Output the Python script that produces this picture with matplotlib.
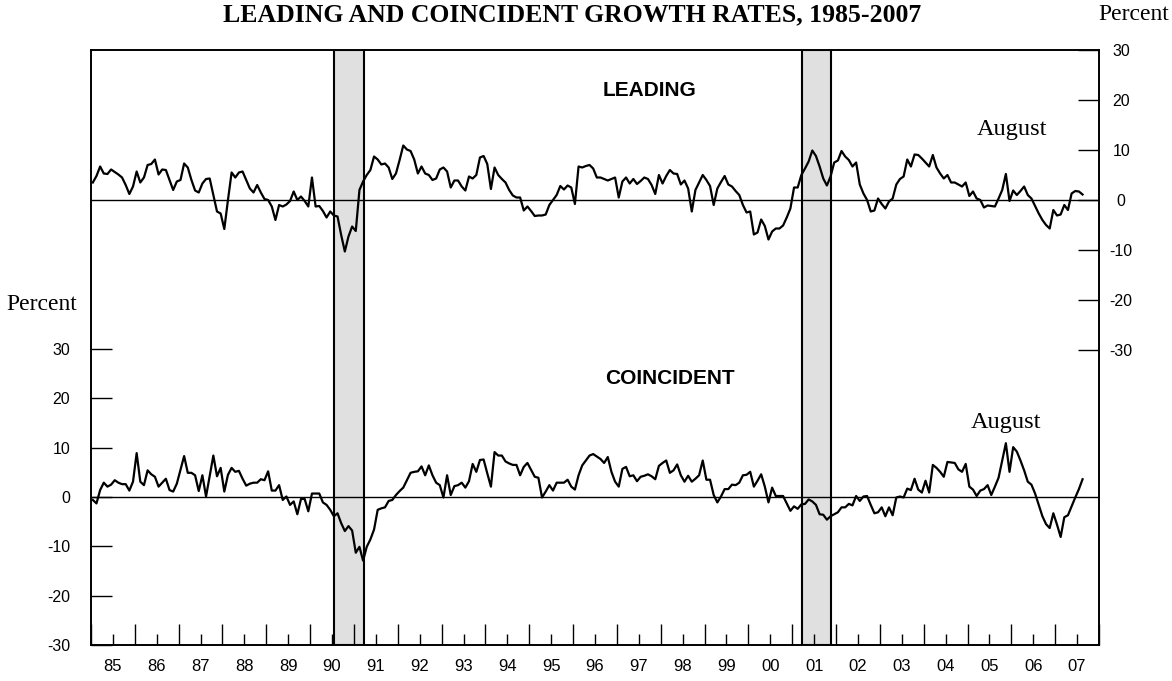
import matplotlib
matplotlib.use('Agg')
import matplotlib.pyplot as plt
import numpy as np

# monthly growth rates, Jan 1985 .. Aug 2007
leading = [
	3.5, 4.8, 6.7, 5.3, 5.2, 6.1, 5.6, 5.1, 4.5, 3.0, 1.2, 2.7,
	5.7, 3.5, 4.5, 7.0, 7.2, 8.1, 5.1, 6.1, 6.0, 4.0, 2.0, 3.7,
	4.0, 7.3, 6.5, 4.0, 1.9, 1.5, 3.3, 4.2, 4.3, 1.0, -2.3, -2.7,
	-5.8, 0.0, 5.5, 4.5, 5.5, 5.7, 4.0, 2.3, 1.5, 3.0, 1.5, 0.2,
	0.0, -1.3, -4.0, -1.0, -1.3, -0.9, -0.2, 1.7, 0.0, 0.7, -0.2, -1.3,
	4.5, -1.3, -1.2, -2.2, -3.5, -2.3, -3.1, -3.3, -7.0, -10.3, -7.3, -5.3,
	-6.2, 2.0, 3.7, 5.0, 6.0, 8.7, 8.1, 7.1, 7.3, 6.5, 4.2, 5.3,
	8.0, 10.9, 10.1, 9.8, 8.1, 5.3, 6.7, 5.3, 5.0, 4.0, 4.3, 6.1,
	6.5, 5.7, 2.5, 3.9, 3.9, 2.7, 1.9, 4.7, 4.3, 5.0, 8.5, 8.8,
	7.2, 2.2, 6.5, 5.0, 4.2, 3.5, 2.0, 0.9, 0.5, 0.5, -2.1, -1.3,
	-2.2, -3.2, -3.1, -3.1, -2.9, -1.0, 0.0, 1.0, 2.8, 2.1, 2.9, 2.5,
	-0.8, 6.7, 6.5, 6.8, 7.0, 6.3, 4.5, 4.5, 4.2, 3.9, 4.2, 4.5,
	0.5, 3.7, 4.5, 3.3, 4.2, 3.2, 3.8, 4.5, 4.2, 3.0, 1.2, 5.0,
	3.3, 4.8, 6.0, 5.3, 5.2, 3.1, 3.9, 2.3, -2.3, 2.0, 3.5, 5.0,
	4.0, 2.8, -1.0, 2.3, 3.6, 4.8, 3.1, 2.7, 1.8, 1.0, -1.0, -2.5,
	-2.3, -6.9, -6.5, -3.9, -5.2, -7.9, -6.3, -5.7, -5.7, -5.1, -3.5, -1.7,
	2.5, 2.5, 5.0, 6.3, 7.7, 9.9, 8.8, 6.7, 4.3, 2.9, 4.7, 7.5,
	7.9, 9.8, 8.7, 8.0, 6.7, 7.5, 3.1, 1.3, 0.0, -2.3, -2.1, 0.3,
	-0.8, -1.7, -0.3, 0.3, 3.1, 4.2, 4.7, 8.1, 6.7, 9.1, 9.0, 8.3,
	7.5, 6.7, 9.0, 6.5, 5.3, 4.3, 5.0, 3.5, 3.5, 3.1, 2.7, 3.5,
	0.8, 1.7, 0.3, 0.0, -1.5, -1.1, -1.2, -1.3, 0.3, 2.0, 5.2, -0.2,
	1.9, 1.0, 1.8, 2.7, 1.0, 0.3, -1.2, -2.7, -4.0, -5.0, -5.7, -2.0,
	-3.1, -2.9, -1.0, -2.0, 1.3, 1.8, 1.7, 1.1,
]

coincident = [
	-0.6, -1.3, 1.4, 2.9, 2.1, 2.5, 3.4, 2.9, 2.6, 2.6, 1.3, 3.1,
	8.9, 3.1, 2.4, 5.4, 4.6, 4.1, 2.1, 2.9, 3.7, 1.4, 1.1, 2.7,
	5.5, 8.3, 4.9, 4.9, 4.4, 1.2, 4.4, 0.1, 4.2, 8.4, 4.2, 5.9,
	1.1, 4.5, 5.9, 5.1, 5.3, 3.7, 2.3, 2.7, 2.9, 2.9, 3.6, 3.4,
	5.2, 1.3, 1.3, 2.4, -0.6, 0.1, -1.6, -0.9, -3.5, -0.4, -0.4, -2.9,
	0.7, 0.7, 0.7, -1.1, -1.6, -2.6, -3.9, -3.3, -5.3, -6.9, -5.9, -6.8,
	-11.3, -10.1, -12.9, -10.1, -8.6, -6.6, -2.6, -2.3, -2.1, -0.8, -0.6, 0.4,
	1.2, 1.9, 3.4, 4.9, 5.1, 5.2, 6.2, 4.4, 6.4, 4.4, 2.9, 2.4,
	-0.1, 4.4, 0.4, 2.2, 2.4, 2.9, 1.9, 3.2, 6.7, 5.1, 7.5, 7.6,
	4.8, 2.1, 9.1, 8.4, 8.4, 7.2, 6.8, 6.5, 6.5, 4.4, 6.1, 6.9,
	5.5, 4.1, 3.9, -0.1, 1.1, 2.4, 1.3, 2.9, 2.9, 2.9, 3.5, 2.1,
	1.5, 4.4, 6.4, 7.4, 8.4, 8.7, 8.2, 7.7, 6.9, 8.1, 5.1, 3.1,
	2.1, 5.7, 6.1, 4.2, 4.4, 3.2, 4.1, 4.3, 4.6, 4.2, 3.6, 6.3,
	6.9, 7.4, 4.9, 5.4, 6.6, 4.4, 3.1, 4.3, 3.1, 3.7, 4.4, 7.4,
	3.5, 3.5, 0.4, -1.1, 0.1, 1.6, 1.6, 2.5, 2.4, 2.9, 4.4, 4.5,
	5.1, 2.1, 3.3, 4.6, 2.1, -1.1, 1.9, 0.2, 0.2, 0.2, -1.3, -2.8,
	-1.9, -2.4, -1.5, -1.4, -0.5, -0.9, -1.6, -3.5, -3.6, -4.6, -3.9, -3.5,
	-3.1, -2.1, -2.1, -1.4, -1.7, 0.2, -0.8, 0.1, 0.2, -1.6, -3.3, -3.1,
	-2.1, -3.9, -2.1, -3.7, -0.1, 0.1, -0.1, 1.7, 1.4, 3.7, 1.5, 0.9,
	3.3, 0.9, 6.5, 5.9, 5.1, 4.1, 7.1, 7.0, 6.9, 5.6, 5.1, 6.7,
	2.1, 1.5, 0.2, 1.3, 1.6, 2.4, 0.4, 2.1, 3.9, 7.4, 10.9, 5.1,
	10.1, 9.2, 7.4, 5.4, 3.1, 2.5, 0.7, -1.6, -3.9, -5.5, -6.3, -3.3,
	-5.6, -8.1, -4.1, -3.7, -1.9, -0.1, 1.6, 3.6,
]

recession_start = [1990.54, 2001.22]
recession_end = [1991.23, 2001.88]

year_labels = ['85', '86', '87', '88', '89', '90', '91', '92', '93', '94', '95', '96',
	'97', '98', '99', '00', '01', '02', '03', '04', '05', '06', '07']
axis_ticks = [30, 20, 10, 0, -10, -20, -30]

def month_positions(n):
	return 1985 + (np.arange(n) + 0.5) / 12.0

def main():
	plt.rcParams['font.family'] = ['Liberation Sans', 'DejaVu Sans']

	fig = plt.figure(figsize=(11.72, 6.81), dpi=100)
	ax = fig.add_axes([91/1172, 36/681, 1008/1172, 595/681])
	ax2 = ax.twinx()

	ax.set_xlim(1985, 2008)
	ax.set_ylim(-30, 90.6)
	ax2.set_ylim(-89, 30)

	# recessions
	for s, e in zip(recession_start, recession_end):
		ax.axvspan(s, e, facecolor='#e0e0e0', edgecolor='black', linewidth=1.5, zorder=1)

	ax.axhline(0, color='black', linewidth=1.0, zorder=2)
	ax2.axhline(0, color='black', linewidth=1.0, zorder=2)

	ax.plot(month_positions(len(coincident)), coincident, color='black', linewidth=1.6, zorder=3)
	ax2.plot(month_positions(len(leading)), leading, color='black', linewidth=1.6, zorder=3)

	# ticks
	years = np.arange(1985, 2009)
	ax.set_xticks(years)
	ax.set_xticklabels([])
	ax.set_xticks(years[:-1] + 0.5, minor=True)
	ax.set_xticklabels(year_labels, minor=True)
	ax.tick_params(axis='x', which='major', direction='in', length=15, width=1, top=False)
	ax.tick_params(axis='x', which='minor', direction='in', length=8, width=1, top=False, pad=10, labelsize=12)

	ax.set_yticks(axis_ticks)
	ax.set_yticklabels([str(t) for t in axis_ticks])
	ax.tick_params(axis='y', direction='in', length=15, width=1, pad=15, labelsize=11.5)

	ax2.set_yticks(axis_ticks)
	ax2.set_yticklabels([str(t) for t in axis_ticks])
	ax2.tick_params(axis='y', direction='in', length=15, width=1, pad=16, labelsize=11.5)
	for lab in ax2.get_yticklabels():
		lab.set_horizontalalignment('center')

	for a in (ax, ax2):
		for sp in a.spines.values():
			sp.set_linewidth(1.2)

	# texts
	serif = ['Liberation Serif', 'DejaVu Serif']
	fig.text(572/1172, 1 - 15/681, 'LEADING AND COINCIDENT GROWTH RATES, 1985-2007',
		ha='center', va='center', fontsize=18.5, fontweight='bold', family=serif)
	fig.text(1134/1172, 1 - 15/681, 'Percent', ha='center', va='center', fontsize=17, family=serif)
	fig.text(42/1172, 1 - 305/681, 'Percent', ha='center', va='center', fontsize=17, family=serif)

	fig.text(650/1172, 1 - 91/681, 'LEADING', ha='center', va='center', fontsize=15, fontweight='bold')
	fig.text(670/1172, 1 - 378/681, 'COINCIDENT', ha='center', va='center', fontsize=15, fontweight='bold')
	fig.text(1012/1172, 1 - 130/681, 'August', ha='center', va='center', fontsize=17.5, family=serif)
	fig.text(1006/1172, 1 - 422/681, 'August', ha='center', va='center', fontsize=17.5, family=serif)

	fig.savefig('out.png', dpi=100)

if __name__ == '__main__':
	main()
